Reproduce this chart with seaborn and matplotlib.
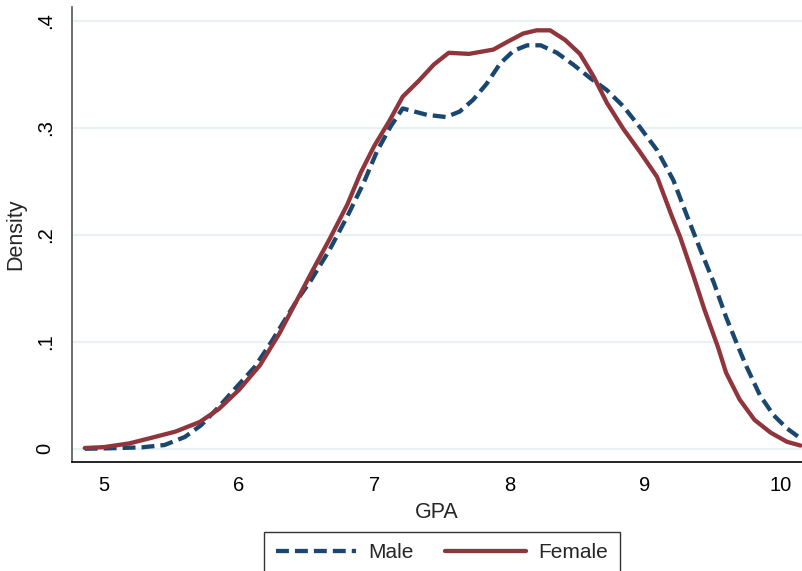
import matplotlib
matplotlib.use("Agg")
import matplotlib.pyplot as plt
import seaborn as sns
import pandas as pd
import numpy as np

# Data (kernel density of GPA by sex)
male_x = [4.86, 5.03, 5.28, 5.45, 5.60, 5.72, 5.85, 5.97, 6.12, 6.24, 6.43, 6.53,
          6.67, 6.80, 6.92, 7.02, 7.12, 7.21, 7.39, 7.53, 7.63, 7.73, 7.83, 7.93,
          8.03, 8.13, 8.23, 8.35, 8.47, 8.60, 8.72, 8.84, 8.96, 9.09, 9.21, 9.31,
          9.41, 9.51, 9.60, 9.69, 9.75, 9.85, 9.95, 10.05, 10.15]
male_y = [0.0, 0.0004, 0.0013, 0.0035, 0.011, 0.022, 0.039, 0.056, 0.077, 0.100,
          0.139, 0.157, 0.186, 0.217, 0.248, 0.278, 0.301, 0.318, 0.312, 0.310,
          0.315, 0.326, 0.341, 0.360, 0.372, 0.377, 0.377, 0.370, 0.359, 0.346,
          0.335, 0.320, 0.301, 0.279, 0.251, 0.218, 0.186, 0.155, 0.123, 0.095,
          0.077, 0.050, 0.0315, 0.019, 0.0097]

female_x = [4.86, 5.00, 5.19, 5.34, 5.53, 5.71, 5.85, 6.00, 6.155, 6.30, 6.45, 6.55,
            6.67, 6.80, 6.90, 7.00, 7.11, 7.21, 7.33, 7.44, 7.55, 7.70, 7.88, 7.98,
            8.10, 8.20, 8.30, 8.41, 8.52, 8.62, 8.72, 8.84, 8.96, 9.09, 9.20, 9.26,
            9.36, 9.44, 9.54, 9.60, 9.70, 9.81, 9.93, 10.05, 10.15]
female_y = [0.0007, 0.0015, 0.005, 0.0098, 0.016, 0.025, 0.037, 0.055, 0.078, 0.108,
            0.144, 0.168, 0.196, 0.228, 0.258, 0.283, 0.306, 0.329, 0.344, 0.359,
            0.370, 0.369, 0.373, 0.380, 0.388, 0.391, 0.391, 0.382, 0.369, 0.348,
            0.323, 0.299, 0.278, 0.254, 0.217, 0.198, 0.161, 0.130, 0.095, 0.071,
            0.046, 0.027, 0.015, 0.0065, 0.003]

series_labels = ["Male", "Female"]
x_ticks = [5, 6, 7, 8, 9, 10]
y_ticks = [0, 0.1, 0.2, 0.3, 0.4]
y_tick_labels = ["0", ".1", ".2", ".3", ".4"]

sns.set_style("white")
plt.rcParams["font.family"] = ["Liberation Sans", "DejaVu Sans"]

NAVY = "#1a476f"
MAROON = "#90353b"

fig = plt.figure(figsize=(8.02, 5.71), dpi=100)
ax = fig.add_axes([72 / 802, 1 - 461.7 / 571, 1 - 72 / 802, (461.7 - 7) / 571])

male_df = pd.DataFrame({"GPA": male_x, "Density": male_y})
female_df = pd.DataFrame({"GPA": female_x, "Density": female_y})

sns.lineplot(data=male_df, x="GPA", y="Density", ax=ax, color=NAVY, lw=3.1,
             sort=False, label=series_labels[0])
sns.lineplot(data=female_df, x="GPA", y="Density", ax=ax, color=MAROON, lw=3.1,
             sort=False, label=series_labels[1])
male_line = ax.lines[0]
male_line.set_dashes((3.0, 1.4))
male_line.set_dash_capstyle("butt")

ax.set_xlim(4.766, 10.161)
ax.set_ylim(-0.0121, 0.4128)

for yv in y_ticks:
    ax.axhline(yv, color="#eaf1f3", lw=1.6, zorder=0)

ax.set_xticks(x_ticks)
ax.set_xticklabels([str(v) for v in x_ticks], fontsize=14.5)
ax.set_yticks(y_ticks)
ax.set_yticklabels(y_tick_labels, fontsize=14.5, rotation=90, va="center")
ax.tick_params(axis="x", direction="out", length=5, width=1, pad=5, colors="black")
ax.tick_params(axis="y", direction="out", length=5, width=1, pad=7.5, colors="black")
ax.tick_params(axis="y", color="#555555")

for side in ["top", "right"]:
    ax.spines[side].set_visible(False)
ax.spines["left"].set_color("#555555")
ax.spines["bottom"].set_color("black")
ax.spines["left"].set_linewidth(1.2)
ax.spines["bottom"].set_linewidth(1.2)

ax.set_xlabel("GPA", fontsize=15.5, labelpad=5)
ax.set_ylabel("Density", fontsize=15.5, labelpad=7)

handles, labels = ax.get_legend_handles_labels()
ax.get_legend().remove()
leg = fig.legend(handles, labels, loc="upper center",
                 bbox_to_anchor=(0.551, 1 - 531.7 / 571), ncol=2, fontsize=15,
                 frameon=True, fancybox=False, edgecolor="black",
                 handlelength=3.85, handletextpad=0.62, columnspacing=1.5,
                 borderpad=0.55, borderaxespad=0)
leg.get_frame().set_linewidth(1.0)
for lh in leg.get_lines():
    lh.set_linewidth(3.1)

fig.savefig("out.png", dpi=100)
